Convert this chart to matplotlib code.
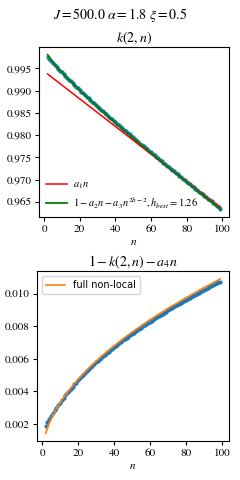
import matplotlib
matplotlib.use('Agg')
import numpy as np
import matplotlib.pyplot as plt

plt.rcParams['font.family'] = 'serif'
plt.rcParams['font.serif'] = ['STIXGeneral', 'DejaVu Serif']
plt.rcParams['mathtext.fontset'] = 'stix'

# n values of the data points
n = list(range(2, 100))

# top panel: k(2, n), data points
k_data = [
    0.99759, 0.99712, 0.99665, 0.99621, 0.99577, 0.99534, 0.99492, 0.99449, 0.99408, 0.99366,
    0.99325, 0.99285, 0.99245, 0.99206, 0.99168, 0.99128, 0.99089, 0.99051, 0.99012, 0.98974,
    0.98936, 0.98899, 0.98862, 0.98825, 0.98788, 0.98751, 0.98715, 0.98679, 0.98642, 0.98607,
    0.98571, 0.98535, 0.98500, 0.98464, 0.98429, 0.98394, 0.98359, 0.98324, 0.98289, 0.98255,
    0.98220, 0.98186, 0.98151, 0.98117, 0.98083, 0.98049, 0.98015, 0.97981, 0.97947, 0.97913,
    0.97879, 0.97846, 0.97812, 0.97779, 0.97745, 0.97712, 0.97678, 0.97645, 0.97612, 0.97579,
    0.97546, 0.97513, 0.97480, 0.97447, 0.97414, 0.97381, 0.97348, 0.97316, 0.97283, 0.97250,
    0.97218, 0.97185, 0.97153, 0.97120, 0.97088, 0.97055, 0.97023, 0.96991, 0.96958, 0.96926,
    0.96894, 0.96862, 0.96830, 0.96798, 0.96766, 0.96733, 0.96701, 0.96669, 0.96638, 0.96606,
    0.96574, 0.96542, 0.96510, 0.96478, 0.96447, 0.96415, 0.96383, 0.96352,
]

# linear fit a_1 n (end points)
lin_n = [2, 99]
lin_k = [0.99372, 0.96370]

# fit 1 - a2 n - a3 n^(2h-2)
fit_n = [2, 3, 4, 5, 6, 8, 10, 13, 16, 20, 25, 30, 35, 40, 45, 50, 60, 70, 80, 90, 99]
fit_k = [0.99805, 0.99745, 0.99691, 0.99639, 0.99590, 0.99497, 0.99409, 0.99283, 0.99162,
         0.99006, 0.98817, 0.98634, 0.98455, 0.98280, 0.98107, 0.97936, 0.97600, 0.97270,
         0.96945, 0.96623, 0.96336]

# bottom panel: 1 - k(2,n) - a4 n, data points
r_data = [
    0.00189, 0.00210, 0.00231, 0.00249, 0.00267, 0.00284, 0.00300, 0.00317, 0.00332, 0.00348,
    0.00363, 0.00377, 0.00391, 0.00404, 0.00416, 0.00430, 0.00443, 0.00455, 0.00468, 0.00480,
    0.00492, 0.00503, 0.00514, 0.00525, 0.00536, 0.00547, 0.00557, 0.00567, 0.00578, 0.00587,
    0.00597, 0.00607, 0.00616, 0.00626, 0.00635, 0.00644, 0.00653, 0.00662, 0.00671, 0.00679,
    0.00688, 0.00696, 0.00705, 0.00713, 0.00721, 0.00729, 0.00737, 0.00745, 0.00753, 0.00761,
    0.00769, 0.00776, 0.00784, 0.00791, 0.00799, 0.00806, 0.00814, 0.00821, 0.00828, 0.00835,
    0.00842, 0.00849, 0.00856, 0.00863, 0.00870, 0.00877, 0.00884, 0.00890, 0.00897, 0.00904,
    0.00910, 0.00917, 0.00923, 0.00930, 0.00936, 0.00943, 0.00949, 0.00955, 0.00962, 0.00968,
    0.00974, 0.00980, 0.00986, 0.00992, 0.00998, 0.01005, 0.01011, 0.01017, 0.01022, 0.01028,
    0.01034, 0.01040, 0.01046, 0.01052, 0.01057, 0.01063, 0.01069, 0.01074,
]

# full non-local fit
nl_n = [2, 3, 4, 5, 6, 8, 10, 13, 16, 20, 25, 30, 35, 40, 45, 50, 60, 70, 80, 90, 99]
nl_r = [0.00143, 0.00177, 0.00205, 0.00231, 0.00254, 0.00295, 0.00331, 0.00379, 0.00422,
        0.00474, 0.00533, 0.00586, 0.00635, 0.00680, 0.00723, 0.00764, 0.00840, 0.00910,
        0.00975, 0.01037, 0.01090]

fig = plt.figure(figsize=(2.4, 4.8), dpi=100)
fig.text(0.5, 0.969, r'$J = 500.0\ \alpha = 1.8\ \xi = 0.5$', fontsize=10,
         ha='center', va='center')

ax1 = fig.add_axes([0.1625, 0.548, 0.792, 0.354])
ax1.plot(n, k_data, '.', color='C0', ms=4)
ax1.plot(lin_n, lin_k, color='red', lw=1.1, label=r'$a_1 n$')
ax1.plot(fit_n, fit_k, color='green', lw=1.3,
         label=r'$1 - a_2 n - a_3 n^{2h-2}, h_{best} = 1.26$')
ax1.set_title(r'$k(2,n)$', fontsize=10, pad=3)
ax1.set_xlabel(r'$n$', fontsize=8, labelpad=3)
ax1.set_xticks([0, 20, 40, 60, 80, 100])
ax1.set_yticks([0.965, 0.970, 0.975, 0.980, 0.985, 0.990, 0.995])
ax1.tick_params(labelsize=8, length=3, pad=2)
ax1.legend(loc='lower left', frameon=False, fontsize=7.5, handlelength=2.0,
           borderaxespad=0.3, labelspacing=0.4, handletextpad=0.6)

ax2 = fig.add_axes([0.154, 0.081, 0.800, 0.354])
ax2.plot(n, r_data, '.', color='C0', ms=4)
ax2.plot(nl_n, nl_r, color='C1', lw=1.2, label='full non-local')
ax2.set_title(r'$1 - k(2,n) - a_4 n$', fontsize=10, pad=3)
ax2.set_xlabel(r'$n$', fontsize=8, labelpad=3)
ax2.set_xticks([0, 20, 40, 60, 80, 100])
ax2.set_yticks([0.002, 0.004, 0.006, 0.008, 0.010])
ax2.tick_params(labelsize=8, length=3, pad=2)
ax2.legend(loc='upper left', prop={'family': 'DejaVu Sans', 'size': 7},
           handlelength=2.0)

fig.savefig('out.png', dpi=100)
